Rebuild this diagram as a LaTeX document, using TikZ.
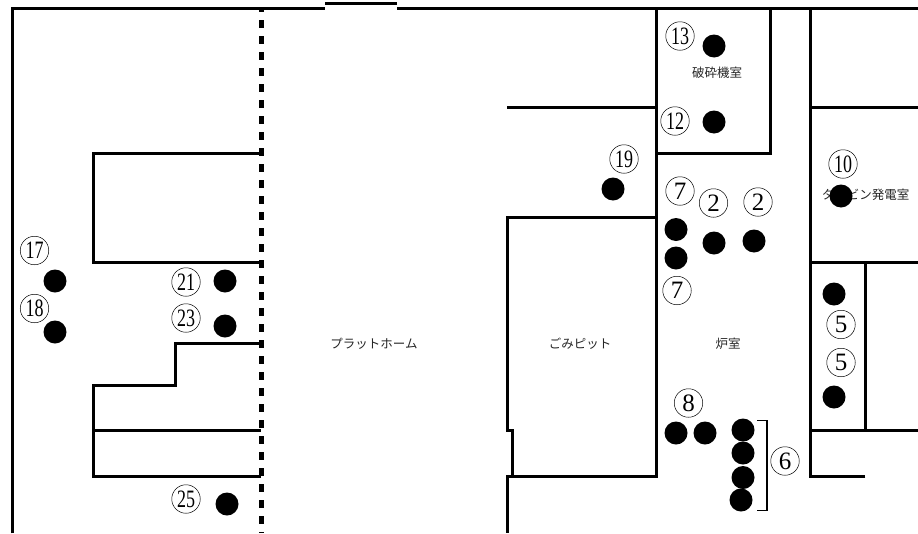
\documentclass[tikz,border=0pt]{standalone}
\usepackage{fontspec}
\setmainfont{Liberation Serif}
\newfontfamily\jpfont{Noto Sans CJK JP}
\tikzset{
  wall/.style={line width=3pt,black,line cap=butt,line join=miter},
  dashwall/.style={line width=4.6pt,black,dash pattern=on 8pt off 8pt,dash phase=4pt},
  spot/.style={circle,fill=black,draw=none,minimum size=23pt,inner sep=0pt},
  tag/.style={circle,draw=black,line width=0.5pt,minimum size=28.5pt,inner sep=0pt,font=\fontsize{25}{25}\selectfont},
  room/.style={font=\jpfont\fontsize{12.5}{13}\selectfont,text=black!85,inner sep=0pt}
}
\newcommand{\nar}[1]{\scalebox{0.72}[1]{#1}}
\begin{document}
\begin{tikzpicture}[x=1pt,y=-1pt]
\useasboundingbox[fill=white] (0,0) rectangle (918,533);
\begin{scope}[shift={(0.4,0.4)}]
% outer walls
\draw[wall] (12,533) -- (12,8) -- (325,8);
\draw[wall] (325,3.5) -- (397,3.5);
\draw[wall] (397,8) -- (918,8);
\draw[dashwall] (261,8) -- (261,533);
% left rooms
\draw[wall] (261,153) -- (93,153) -- (93,262) -- (261,262);
\draw[wall] (261,343.5) -- (175,343.5) -- (175,385) -- (93,385) -- (93,476) -- (261,476);
\draw[wall] (93,430) -- (261,430);
% centre
\draw[wall] (507,107) -- (656,107);
\draw[wall] (656,8) -- (656,476) -- (505.5,476);
\draw[wall] (656,153) -- (770,153) -- (770,8);
\draw[wall] (656,217) -- (507,217) -- (507,430) -- (512,430) -- (512,476);
\draw[wall] (507,474.5) -- (507,533);
% right
\draw[wall] (865,476) -- (810,476) -- (810,8);
\draw[wall] (810,107) -- (918,107);
\draw[wall] (810,262) -- (918,262);
\draw[wall] (865,262) -- (865,430);
\draw[wall] (810,430) -- (918,430);
\end{scope}
% bracket
\draw[line width=1.8pt,black] (757,420.5) -- (767,420.5) -- (767,510.5) -- (757,510.5);
% room labels
\node[room] (crusher) at (717,73) {破砕機室};
\node[room] (turbine) at (865.5,195) {タービン発電室};
\node[room] (platform) at (374,343.5) {プラットホーム};
\node[room] (pit) at (580,343.5) {ごみピット};
\node[room] (furnace) at (728,344) {炉室};
% spots
\foreach \n/\x/\y in {a/714/46,b/714/122,c/613/189,d/676/229.5,e/676/258,f/714/243,g/754/241,h/841/196,
  i/834/294,j/834/397,k/676/433,l/705/433,m/743/430,n/743/453,o/743/477.5,p/741/500,
  q/55/281,r/55/332,s/225/281,t/225/326,u/227/504}
  \node[spot] (spot\n) at (\x,\y) {};
% tags
\node[tag] (t13) at (680,36) {\nar{13}};
\node[tag] (t12) at (675,121) {\nar{12}};
\node[tag] (t19) at (624,159) {\nar{19}};
\node[tag] (t7a) at (680,191) {7};
\node[tag] (t2a) at (713.5,203) {2};
\node[tag] (t2b) at (758,202) {2};
\node[tag] (t10) at (843,164) {\nar{10}};
\node[tag] (t7b) at (677,290.5) {7};
\node[tag] (t5a) at (841,324.5) {5};
\node[tag] (t5b) at (841,362.5) {5};
\node[tag] (t8) at (688.5,403) {8};
\node[tag] (t6) at (785,461) {6};
\node[tag] (t17) at (34.5,250.5) {\nar{17}};
\node[tag] (t18) at (34.5,308.5) {\nar{18}};
\node[tag] (t21) at (186,282) {\nar{21}};
\node[tag] (t23) at (186,318) {\nar{23}};
\node[tag] (t25) at (186,499) {\nar{25}};
\end{tikzpicture}
\end{document}
